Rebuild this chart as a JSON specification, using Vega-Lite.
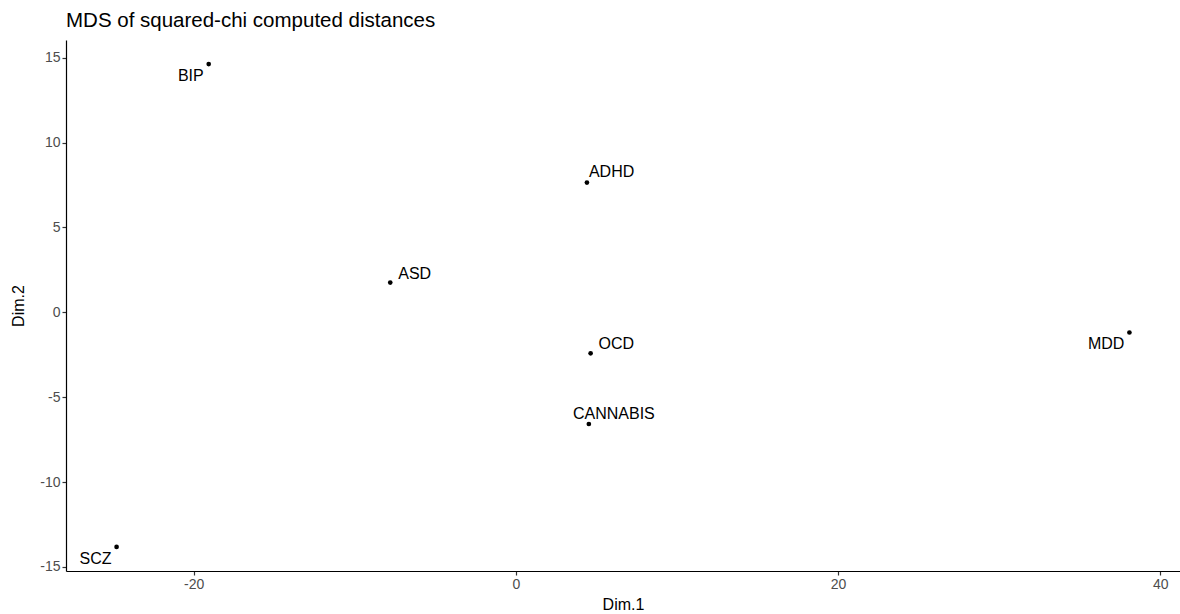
{
  "$schema": "https://vega.github.io/schema/vega-lite/v6.json",
  "width": 1114,
  "height": 531,
  "autosize": "none",
  "padding": {"left": 66, "top": 40, "right": 0, "bottom": 43},
  "background": "white",
  "config": {"view": {"stroke": null}, "font": "Liberation Sans"},
  "title": {"text": "MDS of squared-chi computed distances", "anchor": "start", "frame": "group", "fontSize": 20.5, "fontWeight": "normal", "color": "#000000", "font": "Liberation Sans", "offset": 9},
  "data": {"values": [
    {"label": "BIP", "dim1": -19.07, "dim2": 14.62, "pos": "lowleft"},
    {"label": "ADHD", "dim1": 4.41, "dim2": 7.64, "pos": "upright1"},
    {"label": "ASD", "dim1": -7.80, "dim2": 1.75, "pos": "upright2"},
    {"label": "OCD", "dim1": 4.64, "dim2": -2.42, "pos": "upright2"},
    {"label": "CANNABIS", "dim1": 4.53, "dim2": -6.58, "pos": "up"},
    {"label": "MDD", "dim1": 38.09, "dim2": -1.19, "pos": "lowleft"},
    {"label": "SCZ", "dim1": -24.79, "dim2": -13.82, "pos": "lowleft"}
  ]},
  "encoding": {
    "x": {"field": "dim1", "type": "quantitative", "scale": {"domain": [-27.93, 41.23], "nice": false, "zero": false},
      "axis": {"title": "Dim.1", "values": [-20, 0, 20, 40], "labelExpr": "toString(datum.value)", "grid": false, "domainColor": "#000000", "domainWidth": 1.2, "tickColor": "#333333", "tickSize": 4, "tickWidth": 1.2, "labelColor": "#4d4d4d", "labelFontSize": 14, "labelPadding": 2, "titleFontSize": 16, "titleFontWeight": "normal", "titleColor": "#000000", "titlePadding": 5}},
    "y": {"field": "dim2", "type": "quantitative", "scale": {"domain": [-15.24, 16.04], "nice": false, "zero": false},
      "axis": {"title": "Dim.2", "values": [-15, -10, -5, 0, 5, 10, 15], "labelExpr": "toString(datum.value)", "grid": false, "domainColor": "#000000", "domainWidth": 1.2, "tickColor": "#333333", "tickSize": 4, "tickWidth": 1.2, "labelColor": "#4d4d4d", "labelFontSize": 14, "labelPadding": 2, "titleFontSize": 16, "titleFontWeight": "normal", "titleColor": "#000000", "titlePadding": 13}}
  },
  "layer": [
    {"mark": {"type": "circle", "size": 22, "color": "#000000", "opacity": 1}},
    {"transform": [{"filter": "datum.pos == 'lowleft'"}], "mark": {"type": "text", "align": "right", "baseline": "alphabetic", "dx": -5, "dy": 17, "fontSize": 16, "color": "#000000"}, "encoding": {"text": {"field": "label"}}},
    {"transform": [{"filter": "datum.pos == 'upright1'"}], "mark": {"type": "text", "align": "left", "baseline": "alphabetic", "dx": 2, "dy": -6, "fontSize": 16, "color": "#000000"}, "encoding": {"text": {"field": "label"}}},
    {"transform": [{"filter": "datum.pos == 'upright2'"}], "mark": {"type": "text", "align": "left", "baseline": "alphabetic", "dx": 8, "dy": -4, "fontSize": 16, "color": "#000000"}, "encoding": {"text": {"field": "label"}}},
    {"transform": [{"filter": "datum.pos == 'up'"}], "mark": {"type": "text", "align": "center", "baseline": "alphabetic", "dx": 25, "dy": -5, "fontSize": 16, "color": "#000000"}, "encoding": {"text": {"field": "label"}}}
  ]
}
